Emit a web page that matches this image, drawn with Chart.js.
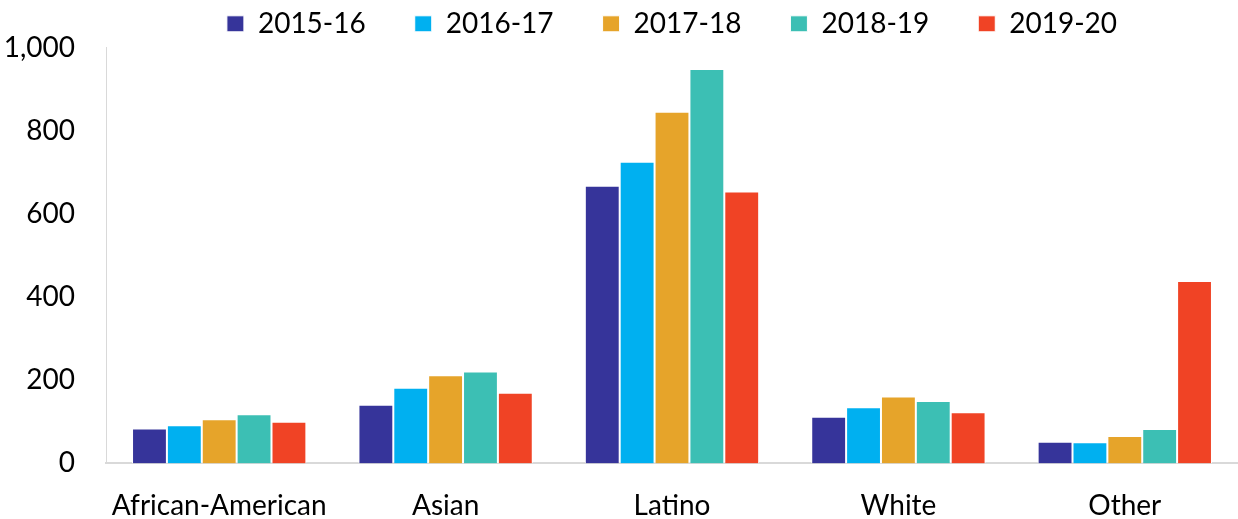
<!DOCTYPE html>
<html>
<head>
<meta charset="utf-8">
<script src="https://cdn.jsdelivr.net/npm/chart.js@4/dist/chart.umd.min.js"></script>
<style>
  html, body { margin: 0; padding: 0; background: #fff; }
  #wrap { width: 1238px; height: 519px; }
</style>
</head>
<body>
<div id="wrap"><canvas id="barChart"></canvas></div>
<script>
const categories = ["African-American", "Asian", "Latino", "White", "Other"];
const years = ["2015-16", "2016-17", "2017-18", "2018-19", "2019-20"];
const colors = ["#36349A", "#00B0F0", "#E6A42A", "#3CBFB4", "#F04325"];

// values per year, in category order
const y2015 = [84, 141, 668, 112, 52];
const y2016 = [92, 182, 726, 135, 51];
const y2017 = [106, 212, 846, 161, 66];
const y2018 = [118, 221, 949, 150, 83];
const y2019 = [100, 170, 654, 123, 439];
const series = [y2015, y2016, y2017, y2018, y2019];

const yTicks = [0, 200, 400, 600, 800, 1000];

const font = "Lato, 'Open Sans', sans-serif";
const legendPad = 49;

function makeDatasets() {
    return years.map((yr, i) => ({
        label: yr,
        data: series[i],
        backgroundColor: colors[i],
        borderColor: "#ffffff",
        borderWidth: 1,
        borderSkipped: "bottom",
        categoryPercentage: 0.77,
        barPercentage: 1.0
    }));
}

// legend is centred over the plot area, not the whole canvas
const legendShift = {
    id: "legendShift",
    afterLayout(chart) {
        chart.legend.left = chart.chartArea.left;
    }
};

const ctx = document.getElementById("barChart");
new Chart(ctx, {
    type: "bar",
    data: {
        labels: categories,
        datasets: makeDatasets()
    },
    plugins: [legendShift],
    options: {
        responsive: true,
        maintainAspectRatio: false,
        animation: false,
        // x tick padding is counted twice in the axis height, hence the negative bottom
        layout: { padding: { left: 0, right: 0, top: 2 - legendPad, bottom: -30 } },
        plugins: {
            legend: {
                position: "top",
                labels: {
                    color: "#000",
                    boxWidth: 17,
                    boxHeight: 16,
                    padding: legendPad,
                    font: { family: font, size: 28 }
                }
            },
            tooltip: { enabled: false }
        },
        scales: {
            x: {
                grid: { display: false, drawTicks: false },
                border: { display: true, color: "#d9d9d9", width: 2 },
                ticks: {
                    color: "#000",
                    padding: 26,
                    maxRotation: 0,
                    minRotation: 0,
                    autoSkip: false,
                    font: { family: font, size: 28 }
                }
            },
            y: {
                min: 0,
                max: 1000,
                afterFit: scale => { scale.width = 106; },
                afterBuildTicks: scale => { scale.ticks = yTicks.map(v => ({ value: v })); },
                grid: { display: false, drawTicks: false },
                border: { display: true, color: "#d9d9d9", width: 1 },
                ticks: {
                    color: "#000",
                    padding: 31,
                    font: { family: font, size: 28 },
                    callback: v => v.toLocaleString("en-US")
                }
            }
        }
    }
});
</script>
</body>
</html>
